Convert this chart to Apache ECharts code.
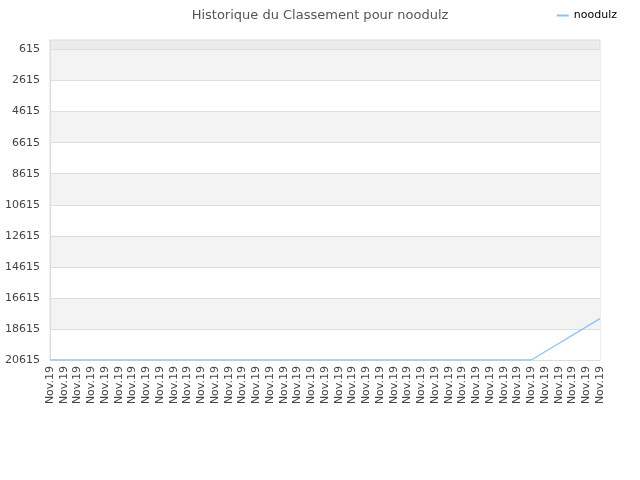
<!DOCTYPE html>
<html>
<head>
<meta charset="utf-8">
<script src="https://cdn.jsdelivr.net/npm/echarts@6/dist/echarts.min.js"></script>
<style>
    html, body { margin: 0; padding: 0; background: #fff; }
    #chart { width: 640px; height: 480px; }
</style>
</head>
<body>
<div id="chart"></div>
<script>
// données du classement
var categories = [];
for (var i = 0; i < 41; i++) {
    categories.push('Nov.19');
}
var rankValues = [
    20615, 20615, 20615, 20615, 20615, 20615, 20615, 20615, 20615, 20615,
    20615, 20615, 20615, 20615, 20615, 20615, 20615, 20615, 20615, 20615,
    20615, 20615, 20615, 20615, 20615, 20615, 20615, 20615, 20615, 20615,
    20615, 20615, 20615, 20615, 20615, 20615, 20082, 19549, 19016, 18483,
    17950
];
var tickValues = [615, 2615, 4615, 6615, 8615, 10615, 12615, 14615, 16615, 18615, 20615];

var myChart = echarts.init(document.getElementById('chart'));
var option = {
    textStyle: { fontFamily: 'DejaVu Sans' },
    title: {
        text: 'Historique du Classement pour noodulz',
        left: 'center',
        top: 4,
        textStyle: { fontSize: 13, fontWeight: 'normal', color: '#555', fontFamily: 'DejaVu Sans' }
    },
    legend: {
        right: 18,
        top: 5,
        itemWidth: 12,
        itemHeight: 2,
        icon: 'rect',
        textStyle: { fontSize: 11, color: '#000', fontFamily: 'DejaVu Sans' },
        data: ['noodulz']
    },
    grid: {
        left: 50,
        right: 40,
        top: 40,
        bottom: 120,
        show: true,
        backgroundColor: '#ececec',
        borderColor: '#dddddd',
        borderWidth: 1
    },
    xAxis: {
        type: 'category',
        boundaryGap: false,
        data: categories,
        axisLine: { show: false },
        axisTick: { show: false },
        axisLabel: {
            rotate: 90,
            interval: 0,
            fontSize: 11,
            color: '#444',
            margin: 6
        }
    },
    yAxis: {
        type: 'value',
        inverse: true,
        min: 0,
        max: 20615,
        axisLine: { show: true, lineStyle: { color: '#dddddd' } },
        axisTick: { show: false, customValues: tickValues },
        axisLabel: {
            fontSize: 11,
            color: '#444',
            margin: 10,
            customValues: tickValues,
            formatter: function (value) {
                return String(value);
            }
        },
        splitLine: { show: true, lineStyle: { color: '#dddddd' } },
        splitArea: { show: true, areaStyle: { color: ['#f3f3f3', '#ffffff'] } }
    },
    series: [
        {
            name: 'noodulz',
            type: 'line',
            symbol: 'none',
            color: '#8ec2f5',
            lineStyle: { width: 1.3, color: '#8ec2f5' },
            data: rankValues
        }
    ]
};
myChart.setOption(option);
</script>
</body>
</html>
